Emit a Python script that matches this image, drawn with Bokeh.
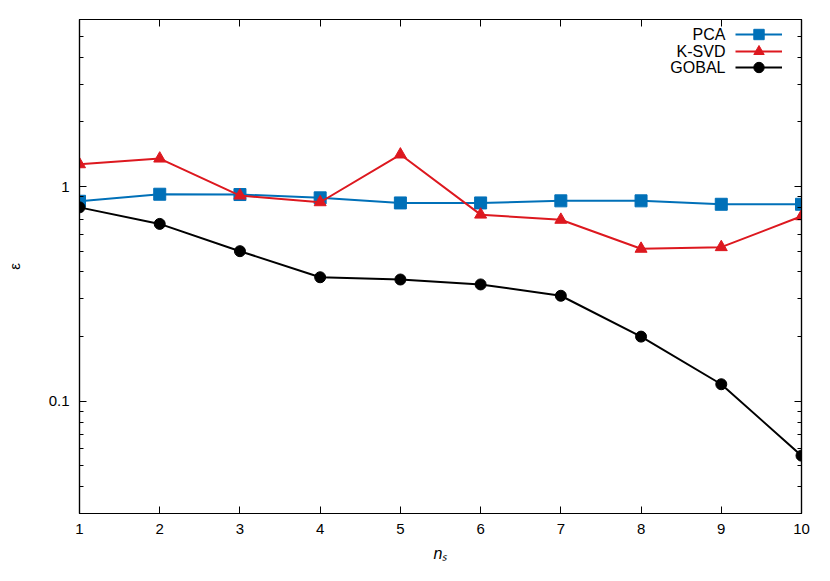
import math
from bokeh.plotting import figure
from bokeh.models import (Range1d, FixedTicker, LinearAxis, LogAxis, Legend, LegendItem, Label)
from bokeh.embed import file_html
from bokeh.resources import INLINE

ns = [1, 2, 3, 4, 5, 6, 7, 8, 9, 10]
pca = [0.854, 0.921, 0.918, 0.886, 0.839, 0.839, 0.858, 0.858, 0.827, 0.827]
ksvd = [1.27, 1.35, 0.908, 0.845, 1.41, 0.74, 0.70, 0.513, 0.522, 0.727]
gobal = [0.80, 0.67, 0.50, 0.378, 0.369, 0.35, 0.31, 0.20, 0.12, 0.0558]
names = ["PCA", "K-SVD", "GOBAL"]

x_ticks = [1, 2, 3, 4, 5, 6, 7, 8, 9, 10]
y_major = [0.1, 1]
y_minor = [0.03, 0.04, 0.05, 0.06, 0.07, 0.08, 0.09,
           0.2, 0.3, 0.4, 0.5, 0.6, 0.7, 0.8, 0.9,
           2, 3, 4, 5, 6]
y_labels = {0.1: "0.1", 1: "1"}

FONT = "Liberation Sans"
BLUE = "#0070b8"
RED = "#dd181f"
BLACK = "#000000"
W, H = 822, 573

p = figure(width=W, height=H, y_axis_type="log",
           x_range=Range1d(1, 10), y_range=Range1d(0.03, 6),
           output_backend="svg", toolbar_location=None,
           min_border_left=79, min_border_right=21,
           min_border_top=19, min_border_bottom=60,
           x_axis_location=None, y_axis_location=None)
p.grid.visible = False
p.outline_line_color = "black"
p.outline_line_width = 1.2
p.background_fill_color = "white"
p.border_fill_color = "white"


def style_axis(ax, labels=True):
    ax.axis_line_color = "black"
    ax.axis_line_width = 1.2
    ax.major_tick_in = 7
    ax.major_tick_out = 0
    ax.minor_tick_in = 4
    ax.minor_tick_out = 0
    ax.major_tick_line_color = "black"
    ax.minor_tick_line_color = "black"
    ax.major_label_text_font = FONT
    ax.major_label_text_color = "black"
    ax.major_label_text_font_size = "15px"
    if not labels:
        ax.major_label_standoff = 0


xt = FixedTicker(ticks=x_ticks, minor_ticks=[])
yt = FixedTicker(ticks=y_major, minor_ticks=y_minor)

xb = LinearAxis(ticker=xt, axis_label="nₛ")
style_axis(xb)
xb.major_label_standoff = 10
xb.axis_label_text_font = FONT
xb.axis_label_text_font_style = "italic"
xb.axis_label_text_font_size = "16px"
xb.axis_label_text_color = "black"
xb.axis_label_standoff = 8
p.add_layout(xb, "below")

xa = LinearAxis(ticker=xt, major_label_overrides={t: "" for t in x_ticks})
style_axis(xa, labels=False)
p.add_layout(xa, "above")

yl = LogAxis(ticker=yt, major_label_overrides=y_labels, axis_label="ε")
style_axis(yl)
yl.major_label_standoff = 10
yl.axis_label_text_font = FONT
yl.axis_label_text_font_style = "normal"
yl.axis_label_text_font_size = "15px"
yl.axis_label_text_color = "black"
yl.axis_label_standoff = 23
p.add_layout(yl, "left")

yr = LogAxis(ticker=yt, major_label_overrides={t: "" for t in y_major})
style_axis(yr, labels=False)
p.add_layout(yr, "right")

series = [(pca, BLUE, "square", 12),
          (ksvd, RED, "triangle", 12),
          (gobal, BLACK, "circle", 11)]

# frame geometry (page pixels) used to place the gnuplot-style key
FL, FB = 79, 513
row_centres = [34, 51, 67]

for (vals, col, mk, sz), name, rc in zip(series, names, row_centres):
    l = p.line(ns, vals, line_color=col, line_width=2)
    s = p.scatter(ns, vals, marker=mk, size=sz, fill_color=col, line_color=col)
    # one sample per key row, text drawn to its left as in gnuplot
    leg = Legend(items=[LegendItem(label=" ", renderers=[l, s])],
                 location=(735 - FL, FB - (rc + 13)),
                 border_line_color=None, background_fill_alpha=0,
                 glyph_width=47, glyph_height=26, label_height=26, label_width=4,
                 spacing=0, padding=0, margin=0, label_standoff=0,
                 label_text_font=FONT, label_text_font_size="15px")
    p.add_layout(leg)
    p.add_layout(Label(x=725 - FL, y=FB - rc, x_units="screen", y_units="screen",
                       text=name, text_font=FONT, text_font_size="16px",
                       text_color="black",
                       text_align="right", text_baseline="middle"))

open("out.html", "w").write(file_html(p, INLINE))
